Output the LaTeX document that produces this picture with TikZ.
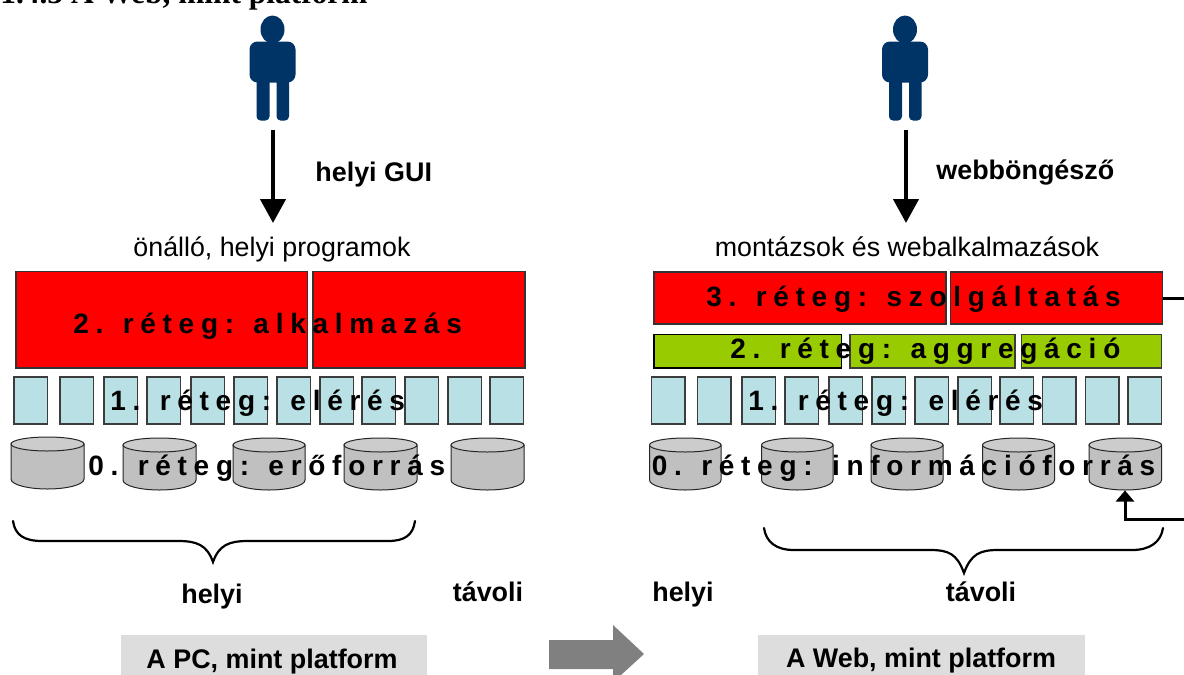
\documentclass[tikz,border=0pt]{standalone}
\usepackage{fontspec}
\setmainfont{Liberation Sans}
\newfontfamily\serifbold{Liberation Serif}
\usetikzlibrary{arrows.meta}
\definecolor{navy}{RGB}{0,51,102}
\definecolor{cell}{RGB}{184,224,229}
\definecolor{drum}{RGB}{192,192,192}
\definecolor{drumtop}{RGB}{204,204,204}
\definecolor{leaf}{RGB}{153,204,0}
\definecolor{plate}{RGB}{221,221,221}
\definecolor{edgeg}{RGB}{60,60,60}
\tikzset{
 x=0.5pt,y=-0.5pt,
 redbox/.style={draw=black!80,fill=red,line width=0.6pt},
 greenbox/.style={draw=edgeg,fill=leaf,line width=0.6pt},
 cellbox/.style={draw=edgeg,fill=cell,line width=0.6pt},
 drumline/.style={draw=black!85,line width=0.5pt},
 layer/.style={font=\bfseries\fontsize{14}{16}\selectfont,inner sep=0pt,anchor=base west},
 bold/.style={font=\bfseries\fontsize{13.45}{14}\selectfont,inner sep=0pt,anchor=base},
 plain/.style={font=\fontsize{13.4}{14}\selectfont,inner sep=0pt,anchor=base},
 flow/.style={line width=2.2pt,-{Triangle[length=12pt,width=12.5pt]}},
 link/.style={line width=1.5pt},
 brace/.style={draw=black,line width=1.1pt,fill=none,line cap=round},
 person/.pic={
  \fill[navy] (0,-91) ellipse (12 and 14);
  \fill[navy,rounded corners=4] (-23,-79) rectangle (23,-38);
  \fill[navy,rounded corners=2] (-16,-42) rectangle (-3,0);
  \fill[navy,rounded corners=2] (4,-42) rectangle (16.5,0);
 }
}
\newcommand{\drumat}[3]{% left, right, top
 \path[drumline,fill=drum] (#1,#3+7) -- (#1,#3+42) .. controls (#1,#3+48) and (#1+18,#3+52) .. ({(#1+#2)/2},#3+52) .. controls (#2-18,#3+52) and (#2,#3+48) .. (#2,#3+42) -- (#2,#3+7) -- cycle;
 \path[drumline,fill=drumtop] ({(#1+#2)/2},#3+7) ellipse ({(#2-#1)/2} and 7);
}
\begin{document}
\begin{tikzpicture}
\useasboundingbox (0,0) rectangle (1184,675);
\fill[white] (0,0) rectangle (1184,675);
% cut-off heading
\node[inner sep=0pt,anchor=base west,font=\serifbold\bfseries\fontsize{15.7}{18}\selectfont] (head) at (0,3) {1.4.3 A Web, mint platform};
% people
\pic at (272.5,120.5) {person};
\pic at (905,120.5) {person};
\coordinate (pl) at (273,130);
\coordinate (pr) at (906,130);
\coordinate (al) at (273,223);
\coordinate (ar) at (906,223);
\draw[flow] (pl) -- (al);
\draw[flow] (pr) -- (ar);
\node[bold,anchor=base west] (lgui) at (315,181) {helyi GUI};
\node[bold,anchor=base west] (lweb) at (936,179) {webböngésző};
\node[plain] (lprog) at (272,256) {önálló, helyi programok};
\node[plain] (rprog) at (907,256) {montázsok és webalkalmazások};
% LEFT layers
\path[redbox] (16,271.5) rectangle (307.5,368);
\path[redbox] (313,271.5) rectangle (525,368);
\foreach \a in {14,60,104,147,191,234,277,320,362,405,448,490}{
 \path[cellbox] (\a,377) rectangle ++(33.5,47);}
\drumat{11}{84}{437}
\drumat{123}{196}{438}
\drumat{233}{305}{438}
\drumat{344}{417}{438}
\drumat{451}{524}{438}
\node[layer] (l2) at (73,333) {\addfontfeature{LetterSpace=24}2. réteg: alkalmazás};
\node[layer] (l1) at (110,410) {\addfontfeature{LetterSpace=24}1. réteg: elérés};
\node[layer] (l0) at (88,475) {\addfontfeature{LetterSpace=24}0. réteg: erőforrás};
% RIGHT layers
\path[redbox] (654,272) rectangle (946,324);
\path[redbox] (950.5,272) rectangle (1162.5,324);
\path[draw=black,fill=leaf,line width=0.6pt] (654,334.5) rectangle (841.5,368);
\path[greenbox] (850,334.5) rectangle (1015,368);
\path[greenbox] (1021.5,334.5) rectangle (1161.5,368);
\foreach \a in {651.5,697.5,742,785,829,872,915,958,1000,1042.5,1085.5,1128}{
 \path[cellbox] (\a,377) rectangle ++(33.5,47);}
\drumat{649.5}{721}{438}
\drumat{761.5}{833}{438}
\drumat{871}{943}{438}
\drumat{982.5}{1054.5}{438}
\drumat{1089}{1161.5}{438}
\node[layer] (r3) at (706,306) {\addfontfeature{LetterSpace=24}3. réteg: szolgáltatás};
\node[layer] (r2) at (730,358) {\addfontfeature{LetterSpace=24}2. réteg: aggregáció};
\node[layer] (r1) at (748,410) {\addfontfeature{LetterSpace=24}1. réteg: elérés};
\node[layer] (r0) at (651.5,475) {\addfontfeature{LetterSpace=24}0. réteg: információforrás};
% service link
\coordinate (s1) at (1162.5,298);
\coordinate (s2) at (1184,298);
\coordinate (t1) at (1184,519);
\coordinate (t2) at (1125,519);
\coordinate (t3) at (1125,490.5);
\draw[link] (s1) -- (s2);
\draw[link,-{Triangle[length=5.5pt,width=9pt]}] (t1) -- (t2) -- (t3);
% braces
\draw[brace] (13,521) .. controls (15,535) and (24,541) .. (42,541) -- (178,541) .. controls (197,541) and (207,545) .. (213,562)
 .. controls (219,545) and (229,541) .. (248,541) -- (388,541) .. controls (405,541) and (413,535) .. (415,521);
\draw[brace] (764,528) .. controls (766,542) and (776,550) .. (794,550) -- (930,550) .. controls (949,550) and (957,554) .. (964,573)
 .. controls (971,554) and (980,550) .. (998,550) -- (1132,550) .. controls (1150,550) and (1161,542) .. (1163,528);
% place labels
\node[bold] (h1) at (212,603) {helyi};
\node[bold] (t4) at (488,601) {távoli};
\node[bold] (h2) at (683,601) {helyi};
\node[bold] (t5) at (981,601) {távoli};
% captions
\path[fill=plate] (121,635) rectangle (427,675);
\path[fill=plate] (757.5,635) rectangle (1085,675);
\node[bold] (c1) at (272,668) {A PC, mint platform};
\node[bold] (c2) at (921,667) {A Web, mint platform};
\path[fill=black!50] (549,640) -- (613,640) -- (613,625) -- (644,654) -- (621,675) -- (613,675) -- (613,669) -- (549,669) -- cycle;
\end{tikzpicture}
\end{document}
